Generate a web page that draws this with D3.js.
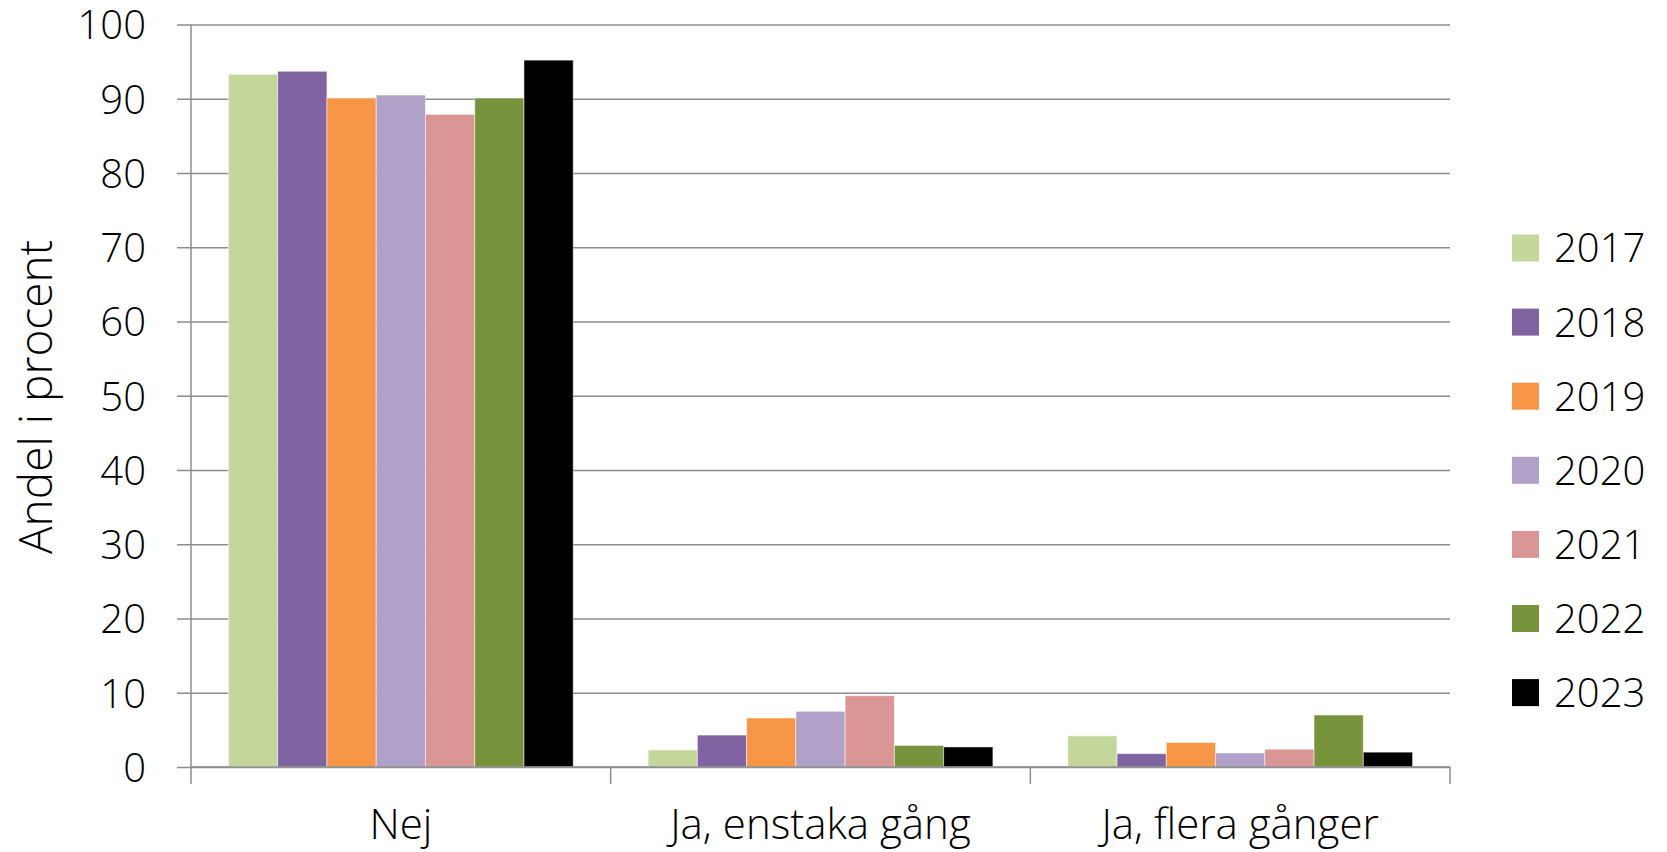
<!DOCTYPE html>
<html>
<head>
<meta charset="utf-8">
<script src="https://cdn.jsdelivr.net/npm/d3@7"></script>
<style>
	body { margin: 0; background: #fff; }
	svg text { font-family: "Open Sans", "Noto Sans", sans-serif; font-weight: 300; fill: #000; }
</style>
</head>
<body>
<div id="chart"></div>
<script>
// data
var categories = ["Nej", "Ja, enstaka gång", "Ja, flera gånger"];
var years = ["2017", "2018", "2019", "2020", "2021", "2022", "2023"];
var colors = ["#C4D79B", "#8064A2", "#F79646", "#B1A0C7", "#DA9694", "#77933C", "#000000"];
var v2017 = [93.3, 2.3, 4.2];
var v2018 = [93.7, 4.3, 1.8];
var v2019 = [90.1, 6.6, 3.3];
var v2020 = [90.5, 7.5, 1.9];
var v2021 = [87.9, 9.6, 2.4];
var v2022 = [90.1, 2.9, 7.0];
var v2023 = [95.2, 2.7, 2.0];
var yTicks = [0, 10, 20, 30, 40, 50, 60, 70, 80, 90, 100];
var yTitle = "Andel i procent";

var series = [v2017, v2018, v2019, v2020, v2021, v2022, v2023];

var W = 1667, H = 852;
var margin = {top: 24.5, left: 191, right: 217, bottom: 85};
var width = W - margin.left - margin.right;
var height = H - margin.top - margin.bottom;

var svg = d3.select("#chart").append("svg")
	.attr("width", W)
	.attr("height", H);

var canvas = svg.append("g")
	.attr("transform", "translate(" + margin.left + "," + margin.top + ")");

var x0 = d3.scaleBand().domain(categories).range([0, width]).paddingInner(0).paddingOuter(0);
// bars fill about 82% of the category slot
var x1 = d3.scaleBand().domain(years).range([0, x0.bandwidth()]).paddingOuter(0.76).paddingInner(0);
var y = d3.scaleLinear().domain([0, 100]).range([height, 0]);

// gridlines + y labels
var grid = canvas.append("g")
	.attr("transform", "translate(" + width + ",0)")
	.call(d3.axisLeft(y).tickValues(yTicks).tickSize(width + 14).tickPadding(31));
grid.select(".domain").remove();
grid.selectAll("line").attr("stroke", "#8c8c8c").attr("stroke-width", 1.5);
grid.selectAll("text").style("font-size", "40px").attr("dy", "0.36em");

// y axis line
canvas.append("line")
	.attr("x1", 0).attr("x2", 0)
	.attr("y1", 0).attr("y2", height)
	.attr("stroke", "#8c8c8c").attr("stroke-width", 1.5);

// bars
var groups = canvas.selectAll("g.grp")
	.data(categories)
	.enter().append("g")
	.attr("class", "grp")
	.attr("transform", function(d) { return "translate(" + x0(d) + ",0)"; });

groups.selectAll("rect")
	.data(function(d, ci) { return years.map(function(yr, si) { return {year: yr, si: si, value: series[si][ci]}; }); })
	.enter().append("rect")
	.attr("x", function(d) { return x1(d.year); })
	.attr("y", function(d) { return y(d.value); })
	.attr("width", x1.bandwidth())
	.attr("height", function(d) { return height - y(d.value); })
	.attr("fill", function(d) { return colors[d.si]; })
	.attr("stroke", "rgba(255,255,255,0.5)")
	.attr("stroke-width", 1);

// x axis baseline + ticks at category boundaries
canvas.append("line")
	.attr("x1", 0).attr("x2", width)
	.attr("y1", height).attr("y2", height)
	.attr("stroke", "#8c8c8c").attr("stroke-width", 1.5);

var bounds = categories.map(function(c) { return x0(c); }).concat([x0(categories[categories.length - 1]) + x0.bandwidth()]);
canvas.selectAll("line.xtick")
	.data(bounds)
	.enter().append("line")
	.attr("class", "xtick")
	.attr("x1", function(d) { return d; }).attr("x2", function(d) { return d; })
	.attr("y1", height).attr("y2", height + 17)
	.attr("stroke", "#8c8c8c").attr("stroke-width", 1.5);

canvas.selectAll("text.cat")
	.data(categories)
	.enter().append("text")
	.attr("class", "cat")
	.attr("x", function(d) { return x0(d) + x0.bandwidth() / 2; })
	.attr("y", height + 72)
	.attr("text-anchor", "middle")
	.style("font-size", "42px")
	.text(function(d) { return d; });

// y title
svg.append("text")
	.attr("transform", "translate(52,397) rotate(-90)")
	.attr("text-anchor", "middle")
	.style("font-size", "46px")
	.text(yTitle);

// legend
var legend = svg.append("g").attr("transform", "translate(1512,248)");
var items = legend.selectAll("g")
	.data(years)
	.enter().append("g")
	.attr("transform", function(d, i) { return "translate(0," + (i * 74.1) + ")"; });
items.append("rect")
	.attr("x", 0).attr("y", -13.5)
	.attr("width", 27).attr("height", 27)
	.attr("fill", function(d, i) { return colors[i]; });
items.append("text")
	.attr("x", 42).attr("y", 0)
	.attr("dy", "0.36em")
	.style("font-size", "40px")
	.text(function(d) { return d; });
</script>
</body>
</html>
